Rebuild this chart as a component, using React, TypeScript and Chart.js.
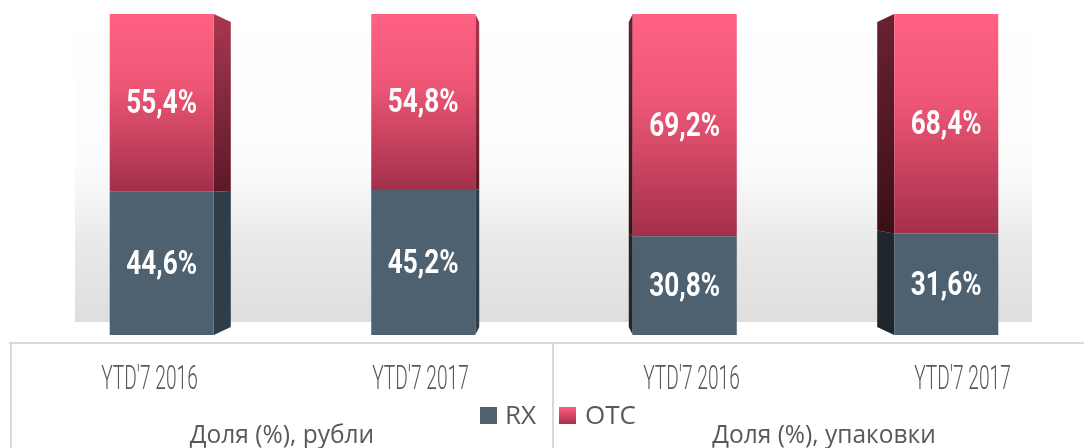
import React, { useEffect, useRef } from 'react';
import { Chart, registerables } from 'chart.js';

Chart.register(...registerables);

// ---- data ----
const categories = ["YTD'7 2016", "YTD'7 2017", "YTD'7 2016", "YTD'7 2017"];
const groupLabels = ['Доля (%), рубли', 'Доля (%), упаковки'];
const seriesNames = ['RX', 'OTC'];
const rxValues = [44.6, 45.2, 30.8, 31.6];
const otcValues = [55.4, 54.8, 69.2, 68.4];

const RX_COLOR = '#4e6170';
const TEXT_GRAY = '#595959';
const AXIS_GRAY = '#d9d9d9';

const fmt = (v: number) => v.toFixed(1).replace('.', ',') + '%';

function drawText(
  ctx: CanvasRenderingContext2D,
  text: string,
  x: number,
  y: number,
  font: string,
  color: string,
  sx: number,
  align: CanvasTextAlign = 'center',
  baseline: CanvasTextBaseline = 'alphabetic'
) {
  ctx.save();
  ctx.translate(x, y);
  ctx.scale(sx, 1);
  ctx.font = font;
  ctx.fillStyle = color;
  ctx.textAlign = align;
  ctx.textBaseline = baseline;
  ctx.fillText(text, 0, 0);
  ctx.restore();
}

export default function App() {
  const ref = useRef<HTMLCanvasElement>(null);

  useEffect(() => {
    const canvas = ref.current!;
    const DEPTH = 0.95;

    const otcFront = (c: any) => {
      const chart = c.chart;
      if (!chart.chartArea || c.dataIndex === undefined) return '#e85272';
      const y = chart.scales.y;
      const i = c.dataIndex;
      const top = y.getPixelForValue(rxValues[i] + otcValues[i]);
      const bot = y.getPixelForValue(rxValues[i]);
      const g = chart.ctx.createLinearGradient(0, top, 0, bot);
      g.addColorStop(0, '#ff6283');
      g.addColorStop(0.4, '#ee5676');
      g.addColorStop(1, '#a2304a');
      return g;
    };

    const decor = {
      id: 'decor',
      beforeDatasetsDraw(chart: any) {
        const { ctx, chartArea: a, scales } = chart;
        // back panel
        const px0 = a.left + 44, px1 = a.right - 45;
        const py0 = a.top + 14, py1 = a.bottom - 13;
        const g = ctx.createLinearGradient(0, py0, 0, py1);
        g.addColorStop(0, '#fefefe');
        g.addColorStop(0.45, '#fcfcfc');
        g.addColorStop(0.56, '#f6f6f6');
        g.addColorStop(0.75, '#e8e8e8');
        g.addColorStop(1, '#dedede');
        ctx.save();
        ctx.fillStyle = g;
        ctx.fillRect(px0, py0, px1 - px0, py1 - py0);

        // 3D side faces
        const vx = (a.left + a.right) / 2;
        const vy = scales.y.getPixelForValue(50);
        for (let d = 0; d < 2; d++) {
          const meta = chart.getDatasetMeta(d);
          meta.data.forEach((el: any) => {
            const leftOfCenter = el.x < vx;
            const fx = leftOfCenter ? el.x + el.width / 2 : el.x - el.width / 2;
            const top = Math.min(el.y, el.base);
            const bot = Math.max(el.y, el.base);
            const bx = vx + (fx - vx) * DEPTH;
            const byt = vy + (top - vy) * DEPTH;
            const byb = vy + (bot - vy) * DEPTH;
            let fill: any;
            if (d === 0) {
              fill = leftOfCenter ? '#2f3d48' : '#1f272c';
            } else {
              const sg = ctx.createLinearGradient(0, top, 0, bot);
              if (leftOfCenter) {
                sg.addColorStop(0, '#a8384f');
                sg.addColorStop(1, '#5c1828');
              } else {
                sg.addColorStop(0, '#6a2233');
                sg.addColorStop(1, '#3b0f17');
              }
              fill = sg;
            }
            ctx.fillStyle = fill;
            ctx.beginPath();
            ctx.moveTo(fx, top);
            ctx.lineTo(bx, byt);
            ctx.lineTo(bx, byb);
            ctx.lineTo(fx, bot);
            ctx.closePath();
            ctx.fill();
          });
        }
        ctx.restore();
      },
      afterDraw(chart: any) {
        const { ctx, chartArea: a, width, height } = chart;
        // data labels
        for (let d = 0; d < 2; d++) {
          const meta = chart.getDatasetMeta(d);
          const vals = d === 0 ? rxValues : otcValues;
          meta.data.forEach((el: any, i: number) => {
            const cy = (el.y + el.base) / 2 + 2;
            drawText(ctx, fmt(vals[i]), el.x, cy, 'bold 34px Roboto', '#ffffff', 0.77, 'center', 'middle');
          });
        }
        // axis lines
        const axisY = a.bottom + 8;
        const axisLeft = 11;
        const axisRight = axisLeft + 1084;
        const cell = (axisRight - axisLeft) / categories.length;
        ctx.save();
        ctx.strokeStyle = AXIS_GRAY;
        ctx.lineWidth = 2;
        ctx.beginPath();
        ctx.moveTo(9, axisY);
        ctx.lineTo(width, axisY);
        ctx.moveTo(axisLeft, axisY);
        ctx.lineTo(axisLeft, height);
        const mid = axisLeft + cell * 2;
        ctx.moveTo(mid, axisY);
        ctx.lineTo(mid, height);
        ctx.stroke();
        ctx.restore();
        // category labels
        categories.forEach((lab, i) => {
          const cx = axisLeft + (i + 0.5) * cell + 3;
          drawText(ctx, lab, cx, axisY + 46, '300 33px Roboto', TEXT_GRAY, 0.58);
        });
        // group labels
        groupLabels.forEach((lab, gi) => {
          const cx = axisLeft + (gi + 0.5) * cell * 2;
          drawText(ctx, lab, cx, axisY + 100, '25px "Open Sans"', TEXT_GRAY, 0.98);
        });
        // legend
        const legY = axisY + 64;
        const items = [
          { name: seriesNames[0], x: 480, textX: 505 },
          { name: seriesNames[1], x: 559, textX: 585 },
        ];
        items.forEach((it, k) => {
          ctx.save();
          if (k === 0) {
            ctx.fillStyle = RX_COLOR;
          } else {
            const lg = ctx.createLinearGradient(0, legY, 0, legY + 17);
            lg.addColorStop(0, '#ff5f80');
            lg.addColorStop(1, '#a8304b');
            ctx.fillStyle = lg;
          }
          ctx.fillRect(it.x, legY, 17, 17);
          ctx.restore();
          drawText(ctx, it.name, it.textX, legY + 17, '26px "Open Sans"', TEXT_GRAY, 1, 'left');
        });
      },
    };

    const chart = new Chart(canvas, {
      type: 'bar',
      data: {
        labels: categories,
        datasets: [
          {
            label: seriesNames[0],
            data: rxValues,
            backgroundColor: RX_COLOR,
            borderWidth: 0,
            barPercentage: 0.398,
            categoryPercentage: 1,
          },
          {
            label: seriesNames[1],
            data: otcValues,
            backgroundColor: otcFront,
            borderWidth: 0,
            barPercentage: 0.398,
            categoryPercentage: 1,
          },
        ],
      },
      options: {
        responsive: false,
        maintainAspectRatio: false,
        animation: false,
        layout: { padding: { left: 31, right: 7, top: 14, bottom: 113 } },
        scales: {
          x: { stacked: true, display: false },
          y: { stacked: true, display: false, min: 0, max: 100 },
        },
        plugins: {
          legend: { display: false },
          tooltip: { enabled: false },
        },
      },
      plugins: [decor],
    });
    return () => chart.destroy();
  }, []);

  return (
    <div style={{ position: 'fixed', left: 0, top: 0, width: 1084, height: 448, background: '#ffffff' }}>
      <canvas ref={ref} width={1084} height={448} style={{ display: 'block' }} />
    </div>
  );
}
